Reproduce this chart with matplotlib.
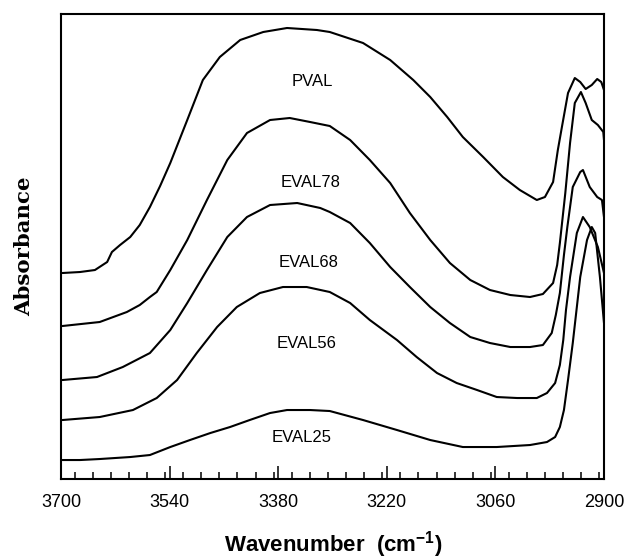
import matplotlib
matplotlib.use("Agg")
import matplotlib.pyplot as plt
from matplotlib.ticker import MultipleLocator

# spectra (wavenumber in cm-1, absorbance in arbitrary offset units)
pval_wn = [3698, 3672, 3650, 3632, 3625, 3613, 3598, 3584, 3569, 3554,
           3539, 3514, 3491, 3466, 3436, 3402, 3367, 3323, 3304, 3255,
           3215, 3181, 3156, 3131, 3108, 3078, 3049, 3024, 2999, 2987,
           2975, 2968, 2962, 2953, 2943, 2935, 2927, 2918, 2910, 2904, 2900]
pval_abs = [206, 207, 209, 217, 227, 234, 242, 254, 272, 293,
            316, 359, 399, 422, 439, 447, 451, 449, 447, 436,
            419, 399, 382, 362, 342, 322, 302, 289, 279, 282,
            297, 329, 352, 386, 401, 397, 390, 394, 400, 397, 389]

eval78_wn = [3698, 3643, 3603, 3584, 3569, 3559, 3539, 3514, 3485, 3455,
             3426, 3392, 3363, 3333, 3304, 3274, 3245, 3215, 3186, 3156,
             3127, 3097, 3068, 3038, 3009, 2990, 2975, 2969, 2965, 2957,
             2950, 2943, 2934, 2927, 2918, 2909, 2901, 2900]
eval78_abs = [153, 157, 167, 174, 182, 187, 209, 239, 279, 319,
              346, 359, 361, 357, 353, 339, 319, 296, 266, 239,
              216, 199, 189, 184, 182, 185, 196, 214, 236, 286,
              336, 376, 387, 376, 359, 354, 347, 339]

eval68_wn = [3698, 3647, 3609, 3569, 3539, 3514, 3485, 3455, 3426, 3392,
             3352, 3318, 3304, 3274, 3245, 3215, 3186, 3156, 3127, 3097,
             3068, 3038, 3009, 2990, 2977, 2971, 2965, 2959, 2954, 2946,
             2935, 2931, 2921, 2910, 2903, 2900]
eval68_abs = [99, 102, 112, 126, 149, 176, 209, 242, 262, 274,
              276, 271, 267, 256, 236, 212, 192, 172, 156, 142,
              136, 132, 132, 134, 146, 164, 186, 224, 252, 292,
              307, 309, 292, 282, 279, 262]

eval56_wn = [3698, 3643, 3594, 3559, 3529, 3500, 3470, 3441, 3407, 3373,
             3338, 3304, 3274, 3245, 3205, 3176, 3146, 3117, 3087, 3058,
             3028, 2999, 2984, 2972, 2965, 2960, 2956, 2950, 2940, 2931,
             2921, 2909, 2900]
eval56_abs = [59, 62, 69, 81, 99, 126, 152, 172, 186, 192,
              192, 187, 176, 159, 139, 122, 106, 96, 89, 82,
              81, 81, 86, 96, 114, 139, 169, 202, 246, 262,
              252, 232, 206]

eval25_wn = [3698, 3672, 3643, 3598, 3569, 3539, 3510, 3480, 3451, 3422,
             3392, 3367, 3333, 3304, 3255, 3205, 3156, 3108, 3058, 3009,
             2984, 2972, 2965, 2959, 2953, 2946, 2935, 2925, 2918, 2913,
             2906, 2900]
eval25_abs = [19, 19, 20, 22, 24, 32, 39, 46, 52, 59,
              66, 69, 69, 68, 59, 49, 39, 32, 32, 34,
              37, 42, 52, 69, 99, 136, 202, 239, 252, 246,
              202, 156]

names = ["PVAL", "EVAL78", "EVAL68", "EVAL56", "EVAL25"]
label_wn = [3330, 3333, 3336, 3338, 3346]
label_abs = [398, 297, 217, 136, 42]

series = [(pval_wn, pval_abs), (eval78_wn, eval78_abs), (eval68_wn, eval68_abs),
          (eval56_wn, eval56_abs), (eval25_wn, eval25_abs)]

fig = plt.figure(figsize=(6.27, 5.6), dpi=100)
ax = fig.add_axes([0.0973, 0.1446, 0.866, 0.8304])

for wn, a in series:
    ax.plot(wn, a, color="black", lw=1.5, solid_joinstyle="round", solid_capstyle="round")

for name, x, y in zip(names, label_wn, label_abs):
    ax.text(x, y, name, ha="center", va="center", fontsize=12, family="Liberation Sans")

ax.set_xlim(3700, 2900)
ax.set_ylim(0, 465)
ax.set_xticks([3700, 3540, 3380, 3220, 3060, 2900])
ax.xaxis.set_minor_locator(MultipleLocator(160 / 6))
ax.set_yticks([])
ax.tick_params(axis="x", which="major", direction="in", length=9.5, width=1.1, pad=11,
               labelsize=13, top=False)
ax.tick_params(axis="x", which="minor", direction="in", length=5, width=1.1, top=False)
for lab in ax.get_xticklabels():
    lab.set_family("Liberation Sans")
for sp in ax.spines.values():
    sp.set_linewidth(1.5)

fig.text(0.531, 0.027, r"Wavenumber  (cm$^{\mathregular{-1}}$)", ha="center", va="center",
         fontsize=16, family="Liberation Sans", weight="bold")
fig.text(0.038, 0.561, "Absorbance", rotation=90, ha="center", va="center",
         fontsize=15.3, family="DejaVu Serif", weight="bold")

fig.savefig("out.png", dpi=100)
